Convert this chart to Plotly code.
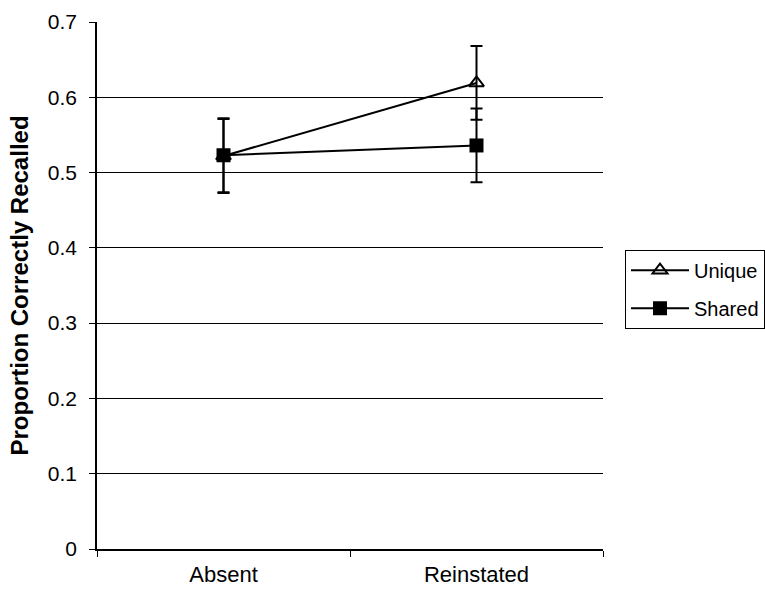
import plotly.graph_objects as go

conditions = ["Absent", "Reinstated"]
unique_vals = [0.522, 0.619]
unique_err = [0.049, 0.049]
shared_vals = [0.523, 0.536]
shared_err = [0.049, 0.049]
y_ticks = [0, 0.1, 0.2, 0.3, 0.4, 0.5, 0.6, 0.7]

FONT = "Liberation Sans, Arial, sans-serif"

fig = go.Figure()
fig.add_trace(go.Scatter(
    x=conditions, y=unique_vals, name="Unique", mode="lines+markers",
    legendgroup="u",
    line=dict(color="black", width=2),
    marker=dict(symbol="triangle-up-open", size=13, color="black", line=dict(width=2)),
    error_y=dict(type="data", array=unique_err, color="black", thickness=2, width=6),
))
fig.add_trace(go.Scatter(
    x=conditions, y=shared_vals, name="Shared", mode="lines+markers",
    legendgroup="s",
    line=dict(color="black", width=2),
    marker=dict(symbol="square", size=14, color="black"),
    error_y=dict(type="data", array=shared_err, color="black", thickness=2, width=6),
))

fig.update_layout(
    width=765, height=590,
    margin=dict(l=97, r=162, t=22, b=41, autoexpand=False),
    paper_bgcolor="white", plot_bgcolor="white",
    font=dict(family=FONT, size=21, color="black"),
    showlegend=True,
    legend=dict(
        x=1.0435, y=0.568, xanchor="left", yanchor="top",
        bordercolor="black", borderwidth=1, bgcolor="white",
        font=dict(size=20), itemwidth=58, tracegroupgap=9,
    ),
)
fig.update_xaxes(
    type="category", range=[-0.5, 1.5], automargin=False,
    showline=True, linecolor="black", linewidth=1.5,
    ticks="outside", tickson="boundaries", ticklen=6, tickcolor="black",
    tickfont=dict(size=22), ticklabelstandoff=5,
    showgrid=False, zeroline=False,
)
fig.update_yaxes(
    range=[0, 0.7], tickvals=y_ticks, ticktext=[f"{v:g}" for v in y_ticks],
    automargin=False,
    showline=True, linecolor="black", linewidth=1.5,
    ticks="outside", ticklen=6, tickcolor="black", ticklabelstandoff=8,
    showgrid=True, gridcolor="black", gridwidth=1.3, zeroline=False,
    title=dict(text="<b>Proportion Correctly Recalled</b>", font=dict(size=24), standoff=12),
)

fig.write_html("out.html")
